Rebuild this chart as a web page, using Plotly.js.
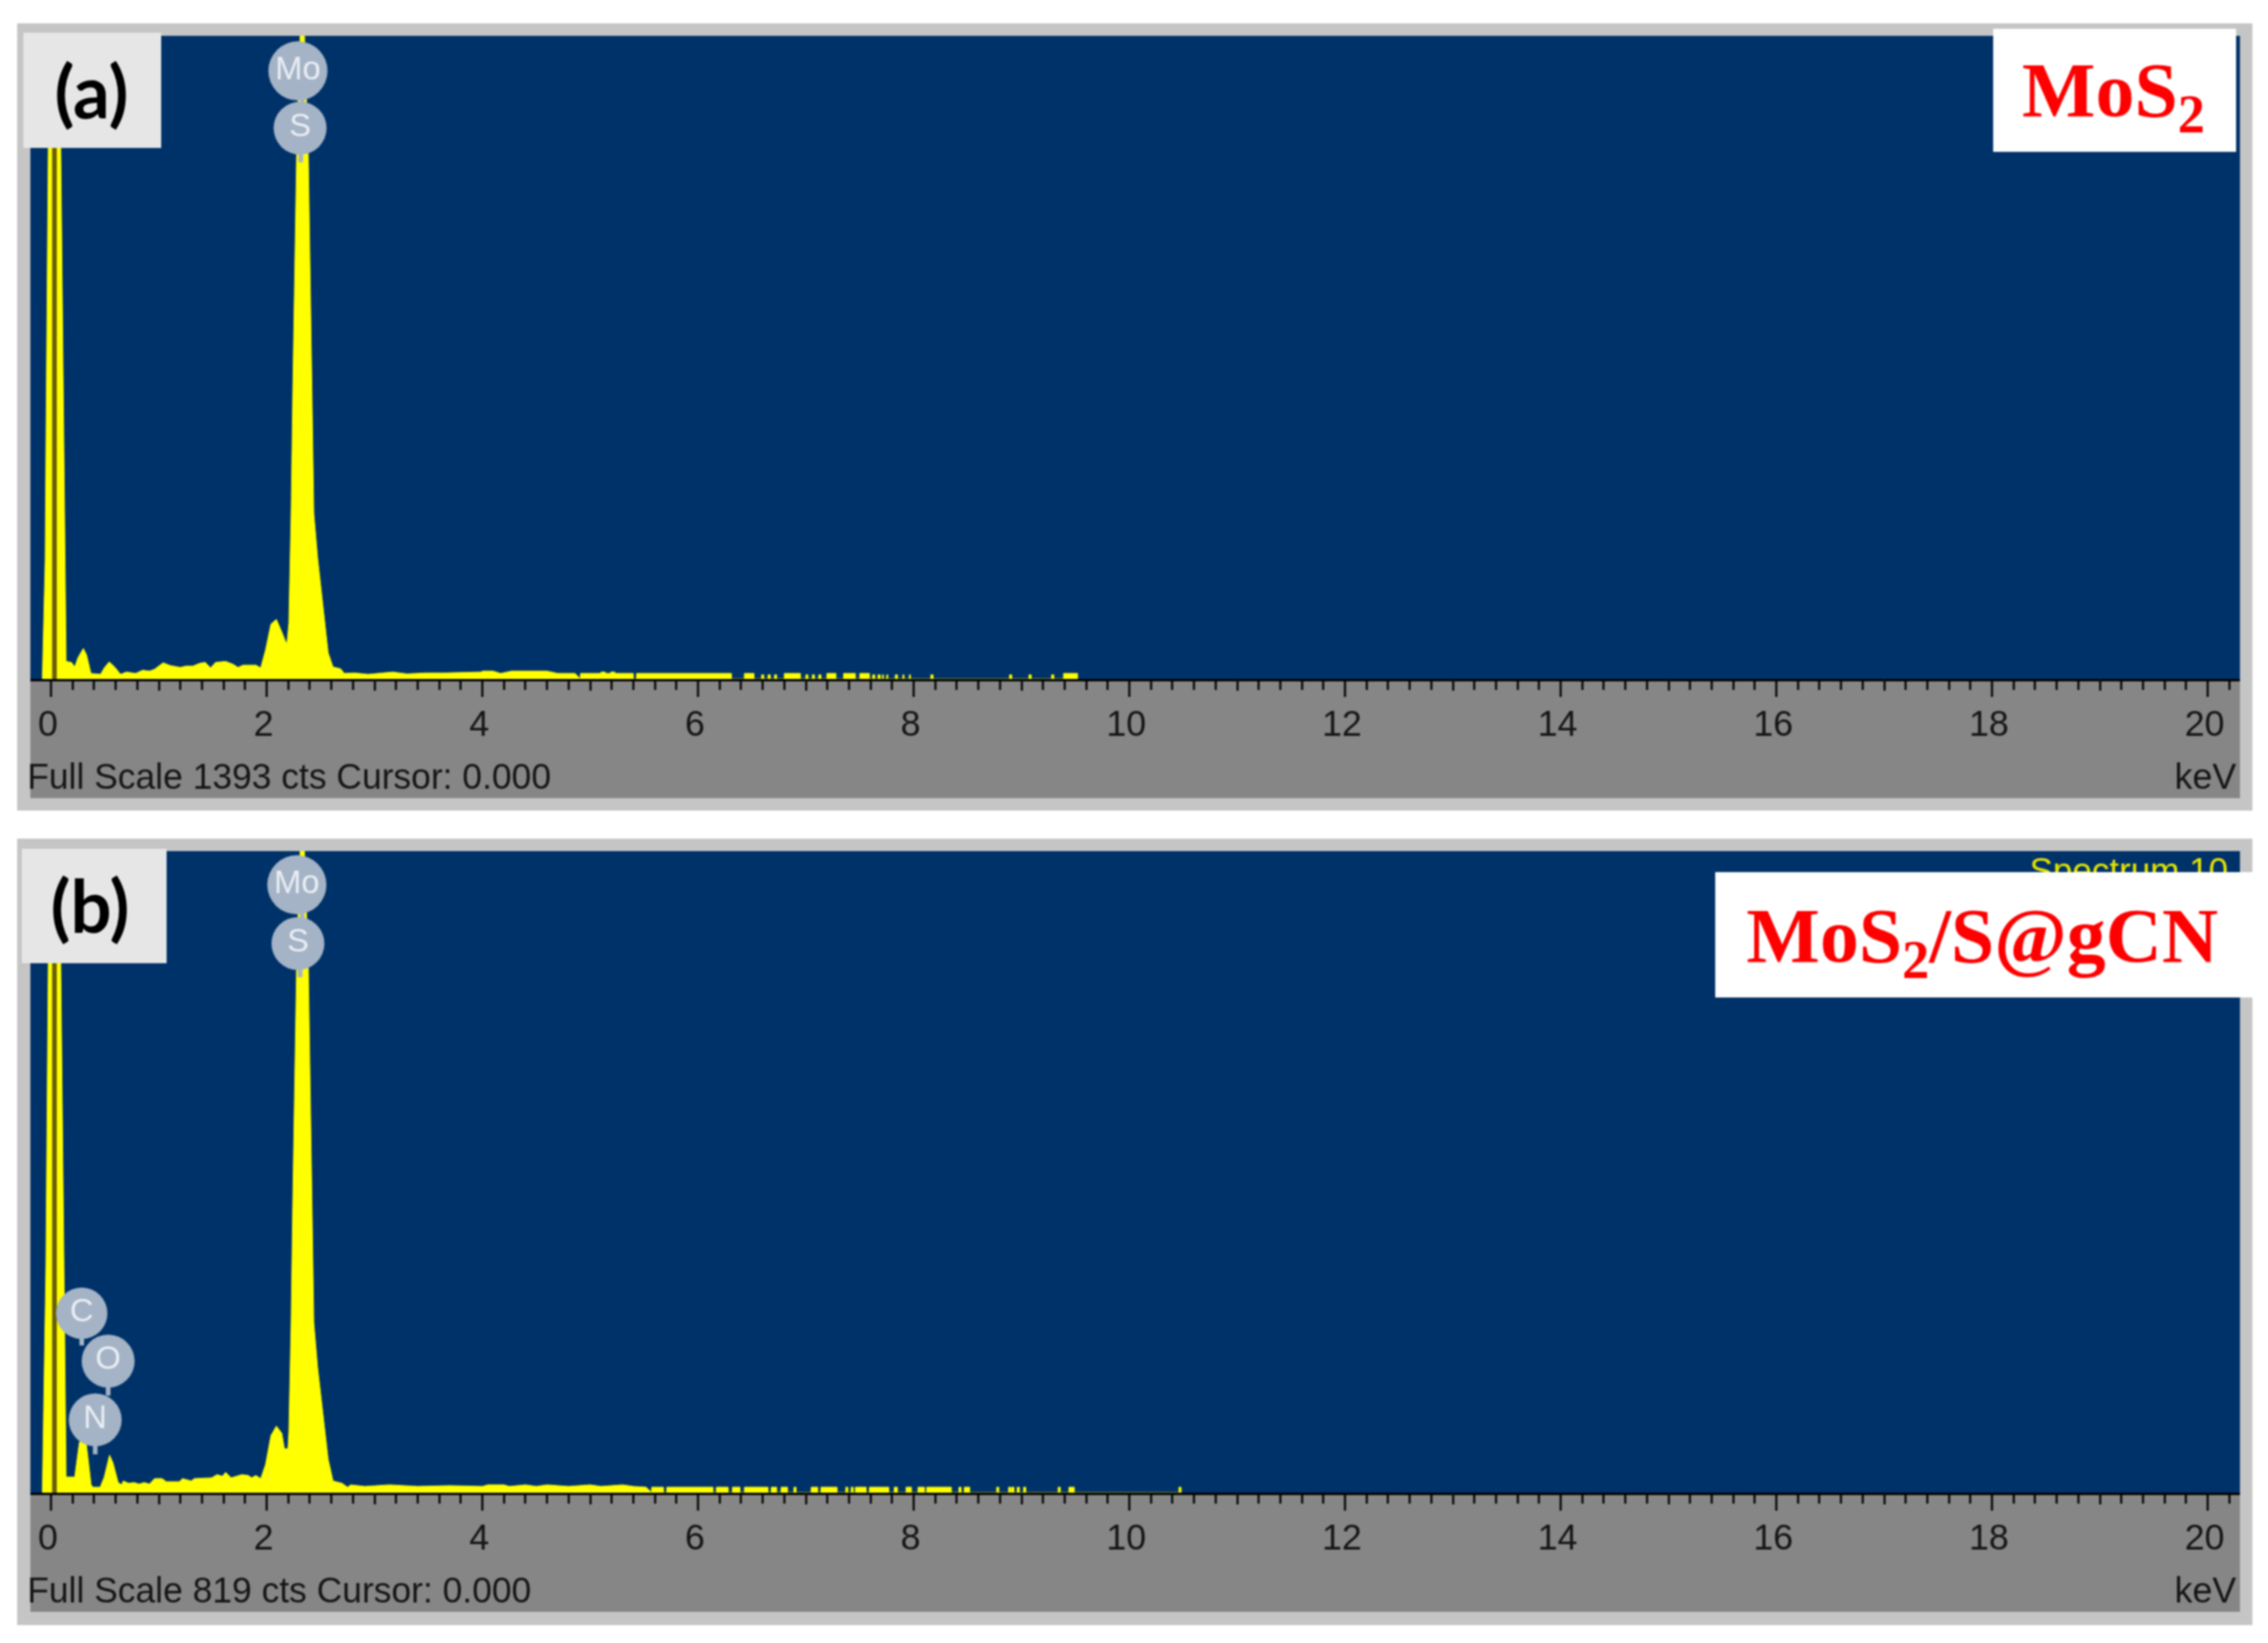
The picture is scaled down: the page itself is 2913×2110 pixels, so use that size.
<!DOCTYPE html>
<html>
<head>
<meta charset="utf-8">
<script src="https://cdn.plot.ly/plotly-3.0.1.min.js"></script>
<style>html,body{margin:0;padding:0;background:#fff}#chart{width:2913px;height:2110px;filter:blur(0.8px)}</style>
</head>
<body>
<div id="chart"></div>
<script>
// ---------- data (keV, counts) ----------
const fullScaleA = 1393;
const fullScaleB = 819;
const tickLabels = ['0','2','4','6','8','10','12','14','16','18','20'];
const tickValues = [0,2,4,6,8,10,12,14,16,18,20];
const oddValues  = [1,3,5,7,9,11,13,15,17,19];

const spectrumAx = [-0.08,-0.054,-0.047,-0.025,0,0.06,0.09,0.12,0.126,0.14,0.19,0.22,0.25,0.30,0.33,0.37,0.46,0.494,0.54,0.59,0.645,0.70,0.785,0.85,0.913,0.96,1.04,1.107,1.2,1.25,1.316,1.38,1.43,1.48,1.526,1.62,1.687,1.735,1.78,1.9,1.945,1.99,2.04,2.09,2.14,2.187,2.206,2.227,2.242,2.278,2.31,2.35,2.386,2.422,2.437,2.473,2.538,2.57,2.615,2.686,2.72,2.815,2.94,3.17,3.3,3.476,3.65,3.88,3.99,4.0,4.1,4.17,4.27,4.36,4.5,4.6,4.7,4.86];
const spectrumAy = [0,254,492,1150,1393,1393,1150,492,254,38,36,26,46,66,52,12,10,24,37,26,10,15,12,19,17,21,35,29,25,28,28,34,36,24,36,38,32,25,30,30,24,63,119,129,102,74,121,359,617,1133,1393,1393,1133,617,359,261,121,57,26,22,12,13,10,15,11,13,13,15,15,17,17,12,17,17,17,17,12,12];
const tailRunsA = [[4.91,5.10],[5.10,5.14],[5.14,5.19],[5.19,5.23],[5.23,5.4],[5.43,6.31],[6.43,6.52],[6.59,6.61],[6.65,6.67],[6.71,6.73],[6.80,6.95],[7.0,7.02],[7.06,7.08],[7.12,7.14],[7.195,7.28],[7.35,7.46],[7.5,7.59],[7.62,7.64],[7.67,7.69],[7.71,7.72],[7.75,7.76],[7.83,7.85],[7.9,7.91],[7.96,7.97],[8.16,8.18],[8.89,8.91],[9.07,9.09],[9.28,9.30],[9.39,9.52]];
const tailLevelsA = [12,15,12,15,12,12,12,9,9,9,12,9,9,9,12,12,12,9,9,9,9,9,9,9,9,9,9,9,12];

const spectrumBx = [-0.08,-0.054,-0.047,-0.025,0,0.06,0.09,0.12,0.126,0.14,0.22,0.262,0.294,0.327,0.372,0.39,0.456,0.494,0.543,0.575,0.623,0.656,0.67,0.72,0.77,0.817,0.865,0.913,0.96,1.03,1.07,1.19,1.22,1.3,1.33,1.49,1.54,1.59,1.62,1.67,1.72,1.77,1.83,1.86,1.9,1.945,1.99,2.04,2.09,2.14,2.165,2.197,2.206,2.227,2.242,2.278,2.31,2.35,2.386,2.422,2.437,2.473,2.538,2.57,2.615,2.70,2.75,2.78,2.91,3.14,3.4,3.7,4.0,4.05,4.2,4.25,4.4,4.5,4.6,4.8,5.0,5.1,5.3,5.4,5.52];
const spectrumBy = [0,200,288,676,819,819,676,288,200,20,20,63,76,63,10,7,7,20,48,38,13,10,15,12,13,11,13,11,18,18,14,14,18,15,18,19,23,21,26,19,21,23,22,19,22,18,36,73,85,76,56,56,77,217,369,673,819,819,673,369,217,159,77,43,15,12,7,10,8,10,8,9,8,10,10,8,10,8,10,8,10,8,10,8,7];
const tailRunsB = [[5.57,5.68],[5.71,6.14],[6.17,6.28],[6.32,6.39],[6.43,6.65],[6.68,6.73],[6.77,6.83],[6.89,6.91],[7.05,7.11],[7.14,7.29],[7.37,7.39],[7.42,7.44],[7.46,7.56],[7.59,7.77],[7.82,7.85],[7.93,7.98],[8.04,8.1],[8.12,8.35],[8.42,8.44],[8.47,8.52],[8.77,8.79],[8.88,8.9],[8.91,8.93],[8.96,8.98],[9.02,9.04],[9.34,9.36],[9.44,9.49],[10.46,10.48]];
const tailLevelB = 7;

const badgeLabelsA = ['Mo','S'];
const badgeKevA = [2.29,2.31];
const badgeCtsA = [1317,1193];
const badgeLabelsB = ['Mo','S','C','O','N'];
const badgeKevB = [2.28,2.29,0.285,0.53,0.41];
const badgeCtsB = [776,701,229,168,93];
const stemKevA = [2.33,2.33,null,2.316,2.316];
const stemCtsA = [1260,1230,null,1160,1119];
const stemKevB = [2.33,2.33,null,2.31,2.31,null,0.285,0.285,null,0.53,0.53,null,0.41,0.41];
const stemCtsB = [745,730,null,680,658,null,200,188,null,140,124,null,64,49];
const cursorKev = [0.032,0.032];

const scaleTextA = 'Full Scale 1393 cts Cursor: 0.000';
const scaleTextB = 'Full Scale 819 cts Cursor: 0.000';
const spectrumName = ['Spectrum 10'];
const spectrumNameKev = [20.19];
const spectrumNameCts = [790];

// ---------- page geometry ----------
const W = 2913, H = 2110;
const px = v => v / W;
const py = v => 1 - v / H;
const NAVY = '#00326a', YELLOW = '#ffff00', FRAME = '#c5c5c5', STRIP = '#868686', BADGE = '#a4b3c5';
const SANS = '"Liberation Sans", Arial, sans-serif';

function expand(xs, ys, runs, level) {
  const x = xs.slice(), y = ys.slice();
  runs.forEach((r, i) => {
    const h = Array.isArray(level) ? level[i] : level;
    x.push(r[0], r[0], r[1], r[1]);
    y.push(0, h, h, 0);
  });
  return {x, y};
}
const specA = expand(spectrumAx, spectrumAy, tailRunsA, tailLevelsA);
const specB = expand(spectrumBx, spectrumBy, tailRunsB, tailLevelB);

function panelTraces(spec, fs, xa, ya, stemX, stemY, labels, bx, by, sizes) {
  return [
    {type:'scatter', mode:'lines', x:spec.x, y:spec.y, xaxis:xa, yaxis:ya, fill:'tozeroy',
     fillcolor:YELLOW, line:{color:YELLOW, width:1, shape:'linear'}, hoverinfo:'skip'},
    {type:'scatter', mode:'lines', x:cursorKev, y:[0,fs], xaxis:xa, yaxis:ya,
     line:{color:'#6a5f00', width:6}, hoverinfo:'skip'},
    {type:'scatter', mode:'lines', x:stemX, y:stemY, xaxis:xa, yaxis:ya,
     line:{color:BADGE, width:6}, hoverinfo:'skip'},
    {type:'scatter', mode:'markers+text', x:bx, y:by, text:labels, xaxis:xa, yaxis:ya,
     textposition:'middle center', cliponaxis:false,
     textfont:{family:SANS, size:42, color:'#e9eef4'},
     marker:{color:BADGE, size:sizes, opacity:1, line:{width:0}}, hoverinfo:'skip'}
  ];
}

const traces = [
  ...panelTraces(specA, fullScaleA, 'x', 'y', stemKevA, stemCtsA, badgeLabelsA, badgeKevA, badgeCtsA, [76,68]),
  ...panelTraces(specB, fullScaleB, 'x2', 'y2', stemKevB, stemCtsB, badgeLabelsB, badgeKevB, badgeCtsB, [76,68,66,68,68]),
  {type:'scatter', mode:'text', x:spectrumNameKev, y:spectrumNameCts, text:spectrumName, xaxis:'x2', yaxis:'y2',
   textposition:'middle left', cliponaxis:false, textfont:{family:SANS, size:45, color:'#e6e600'}, hoverinfo:'skip'},
  {type:'scatter', mode:'none', x:[null], y:[null], xaxis:'x3', yaxis:'y', hoverinfo:'skip'},
  {type:'scatter', mode:'none', x:[null], y:[null], xaxis:'x4', yaxis:'y2', hoverinfo:'skip'}
];

const keVRange = [(39-65.5)/138.5, (2877-65.5)/138.5];
const tickFont = {family:SANS, size:46, color:'#151515'};
const noteFont = {family:SANS, size:45.5, color:'#151515'};

function mainX(anchor) {
  return {
    domain:[px(39), px(2877)], range:keVRange, anchor:anchor, fixedrange:true,
    showgrid:false, zeroline:false, showline:true, linecolor:'#000', linewidth:3,
    tickmode:'array', tickvals:tickValues, ticktext:tickLabels,
    ticks:'outside', ticklen:20, tickwidth:3, tickcolor:'#111',
    tickfont:tickFont, ticklabelstandoff:-5, ticklabelshift:-4,
    minor:{tickmode:'linear', tick0:0, dtick:0.2, ticks:'outside', ticklen:11, tickwidth:3, tickcolor:'#111', showgrid:false}
  };
}
function oddX(anchor, over) {
  return {
    domain:[px(39), px(2877)], range:keVRange, anchor:anchor, overlaying:over, fixedrange:true,
    showgrid:false, zeroline:false, showline:false, showticklabels:false,
    tickmode:'array', tickvals:oddValues,
    ticks:'outside', ticklen:14, tickwidth:3, tickcolor:'#111'
  };
}
function yAxis(top, bottom, fs, anchor) {
  return {domain:[py(bottom), py(top)], range:[0,fs], anchor:anchor, visible:false, fixedrange:true};
}
function box(x0, y0, x1, y1, color, layer) {
  return {type:'rect', xref:'paper', yref:'paper', x0:px(x0), x1:px(x1), y0:py(y0), y1:py(y1),
          fillcolor:color, line:{width:0}, layer:layer || 'below'};
}
function label(text, x, y, xanchor, font) {
  return {text:text, xref:'paper', yref:'paper', x:px(x), y:py(y), xanchor:xanchor, yanchor:'middle',
          showarrow:false, font:font, borderpad:0};
}
const serif = {family:'"Liberation Serif", "Times New Roman", serif', size:100, color:'#ff0000', weight:700};
const letter = {family:'Lato, Carlito, sans-serif', size:93, color:'#000', weight:700};

const layout = {
  width:W, height:H, margin:{l:0,r:0,t:0,b:0},
  paper_bgcolor:'#fff', plot_bgcolor:'rgba(0,0,0,0)', showlegend:false,
  xaxis:mainX('y'), xaxis2:mainX('y2'), xaxis3:oddX('y','x'), xaxis4:oddX('y2','x2'),
  yaxis:yAxis(46,872,fullScaleA,'x'), yaxis2:yAxis(1093,1917,fullScaleB,'x2'),
  shapes:[
    box(22,30,2893,1041,FRAME), box(39,872,2877,1025,STRIP), box(39,46,2877,872,NAVY),
    box(22,1077,2893,2087,FRAME), box(39,1917,2877,2070,STRIP), box(39,1093,2877,1917,NAVY),
    box(30,42,207,190,'#e6e6e6','above'), box(28,1090,214,1237,'#e6e6e6','above'),
    box(2560,37,2872,195,'#ffffff','above'), box(2203,1120,2893,1281,'#ffffff','above')
  ],
  annotations:[
    label(scaleTextA, 34, 997, 'left', noteFont),
    label('keV', 2874, 997, 'right', tickFont),
    label(scaleTextB, 34, 2042, 'left', noteFont),
    label('keV', 2874, 2042, 'right', tickFont),
    label('(a)', 117, 116, 'center', letter),
    label('(b)', 115, 1162, 'center', letter),
    label('MoS<sub>2</sub>', 2714, 122, 'center', serif),
    label('MoS<sub>2</sub>/S@gCN', 2546, 1208, 'center', serif)
  ]
};

Plotly.newPlot('chart', traces, layout, {displayModeBar:false, staticPlot:true});
</script>
</body>
</html>
